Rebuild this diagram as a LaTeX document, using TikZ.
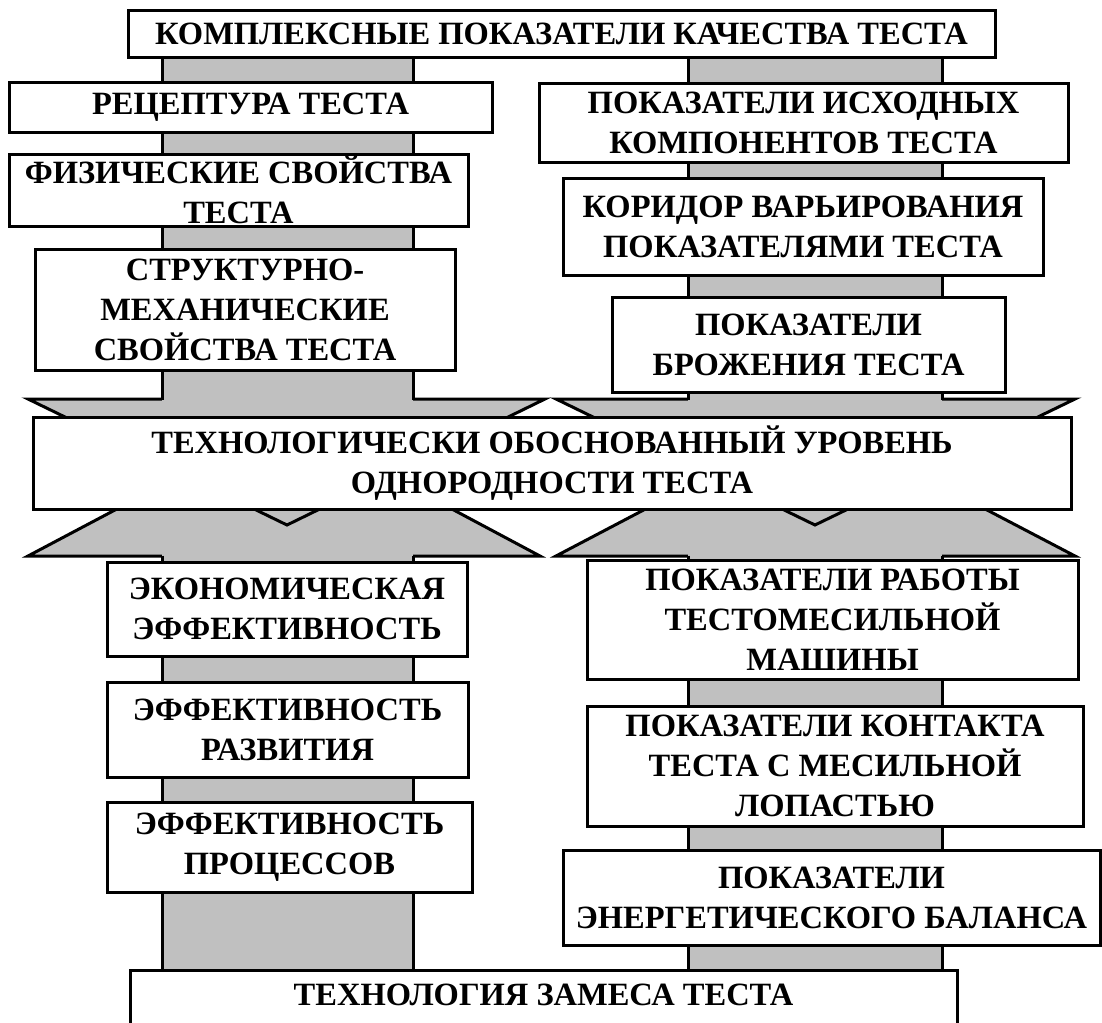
\documentclass[tikz,border=0pt]{standalone}
\usepackage{fontspec}
\setmainfont{Liberation Serif}
\definecolor{barg}{HTML}{C0C0C0}
\tikzset{
  boxstyle/.style={draw=black, fill=white, line width=3bp, inner sep=0pt, align=center,
    font=\fontsize{32.5bp}{40bp}\selectfont\bfseries},
  txtstyle/.style={inner sep=0pt, align=center, font=\fontsize{32.5bp}{40bp}\selectfont\bfseries},
  barside/.style={draw=black, line width=3bp},
  arrowshape/.style={draw=black, fill=barg, line width=3bp, line join=miter},
}
\newcommand\mkbox[6]{\node[boxstyle, minimum width={(#4-#2)*1bp}, minimum height={(#5-#3)*1bp}] (#1) at ({(#2+#4)/2},{(#3+#5)/2}) {#6};}
\begin{document}
\begin{tikzpicture}[x=1bp, y=-1bp]
\useasboundingbox (0,0) rectangle (1102,1023);
% ---- arrows (drawn first) ----
\coordinate (bla) at (28,556); \coordinate (blb) at (540,556); \coordinate (blc) at (285,420);
\coordinate (bra) at (556,556); \coordinate (brb) at (1075,556); \coordinate (brc) at (815,420);
\coordinate (tla) at (28,399); \coordinate (tlb) at (545,399); \coordinate (tlc) at (287,525);
\coordinate (tra) at (556,399); \coordinate (trb) at (1075,399); \coordinate (trc) at (815,525);
\draw[arrowshape] (bla) -- (blb) -- (blc) -- cycle;
\draw[arrowshape] (bra) -- (brb) -- (brc) -- cycle;
\draw[arrowshape] (tla) -- (tlb) -- (tlc) -- cycle;
\draw[arrowshape] (tra) -- (trb) -- (trc) -- cycle;
% ---- gray bars ----
\foreach \xa/\xb in {162/413, 688/942}{
  \fill[barg] (\xa,50) rectangle (\xb,401);
  \draw[barside] (\xa,50) -- (\xa,399.5);
  \draw[barside] (\xb,50) -- (\xb,399.5);
  \fill[barg] (\xa,554) rectangle (\xb,975);
  \draw[barside] (\xa,555.5) -- (\xa,975);
  \draw[barside] (\xb,555.5) -- (\xb,975);
}
% ---- boxes ----
\mkbox{top}{128}{10}{995}{57}{КОМПЛЕКСНЫЕ ПОКАЗАТЕЛИ КАЧЕСТВА ТЕСТА}
\mkbox{rec}{9}{82}{492}{132}{РЕЦЕПТУРА ТЕСТА}
\mkbox{phys}{9}{154}{468}{226}{ФИЗИЧЕСКИЕ СВОЙСТВА\\ТЕСТА}
\mkbox{struct}{35}{249}{455}{370}{СТРУКТУРНО-\\МЕХАНИЧЕСКИЕ\\СВОЙСТВА ТЕСТА}
\mkbox{ishod}{539}{83}{1068}{162}{ПОКАЗАТЕЛИ ИСХОДНЫХ\\КОМПОНЕНТОВ ТЕСТА}
\mkbox{korid}{563}{178}{1043}{275}{КОРИДОР ВАРЬИРОВАНИЯ\\ПОКАЗАТЕЛЯМИ ТЕСТА}
\mkbox{brozh}{612}{297}{1005}{392}{ПОКАЗАТЕЛИ\\БРОЖЕНИЯ ТЕСТА}
\mkbox{mid}{33}{417}{1071}{509}{ТЕХНОЛОГИЧЕСКИ ОБОСНОВАННЫЙ УРОВЕНЬ\\ОДНОРОДНОСТИ ТЕСТА}
\mkbox{econ}{107}{562}{467}{656}{ЭКОНОМИЧЕСКАЯ\\ЭФФЕКТИВНОСТЬ}
\mkbox{razv}{107}{682}{468}{777}{ЭФФЕКТИВНОСТЬ\\РАЗВИТИЯ}
\mkbox{proc}{107}{802}{472}{892}{ЭФФЕКТИВНОСТЬ\\ПРОЦЕССОВ}
\mkbox{rab}{587}{560}{1078}{679}{ПОКАЗАТЕЛИ РАБОТЫ\\ТЕСТОМЕСИЛЬНОЙ\\МАШИНЫ}
\mkbox{kont}{587}{706}{1083}{826}{ПОКАЗАТЕЛИ КОНТАКТА\\ТЕСТА С МЕСИЛЬНОЙ\\ЛОПАСТЬЮ}
\mkbox{energ}{563}{850}{1100}{945}{ПОКАЗАТЕЛИ\\ЭНЕРГЕТИЧЕСКОГО БАЛАНСА}
\mkbox{zames}{130}{970}{957}{1040}{}
\node[txtstyle] (zamest) at (543.5,995) {ТЕХНОЛОГИЯ ЗАМЕСА ТЕСТА};
\end{tikzpicture}
\end{document}
